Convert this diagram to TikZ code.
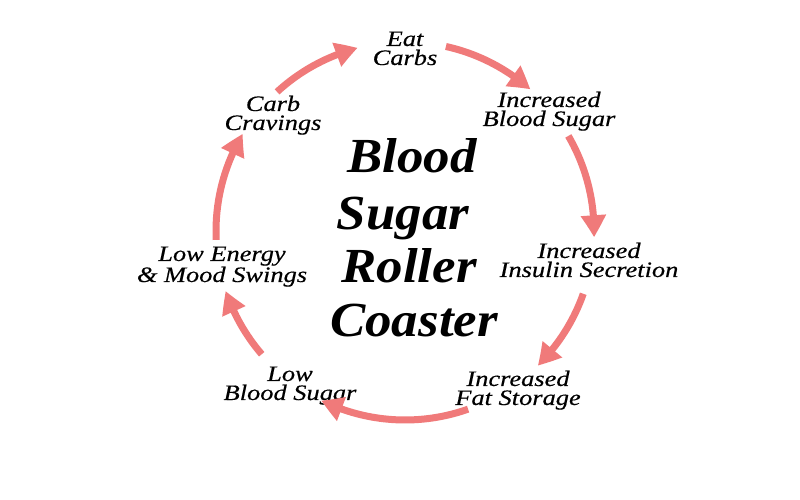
\documentclass[tikz,border=0pt]{standalone}
\usepackage{fontspec}
\newfontfamily\labfont[FakeStretch=1.2,FakeBold=0.4]{Liberation Serif}
\newfontfamily\titfont[FakeStretch=1.08]{Liberation Serif}
\usetikzlibrary{arrows.meta,bending}
\definecolor{arrowpink}{RGB}{240,122,122}
\begin{document}
\begin{tikzpicture}[x=1pt,y=1pt,
  lab/.style={font=\labfont\itshape\fontsize{22}{19}\selectfont, align=center, anchor=base, inner sep=0pt},
  tit/.style={font=\titfont\bfseries\itshape\fontsize{49}{55}\selectfont, anchor=base, inner sep=0pt},
  arr/.style={draw=arrowpink, line width=7pt, -{Triangle[width=24pt,length=22pt,bend]}}]
\useasboundingbox (0,0) rectangle (800,500);
\fill[white] (0,0) rectangle (800,500);
% centre of the cycle
\coordinate (c) at (405,269);
% labels (anchor = baseline of the last line)
\node[lab] (eat) at (405,435) {Eat\\Carbs};
\node[lab] (ibs) at (549,374) {Increased\\Blood Sugar};
\node[lab] (iis) at (589,223) {Increased\\Insulin Secretion};
\node[lab] (ifs) at (518,95) {Increased\\Fat Storage};
\node[lab] (lbs) at (290,100) {Low\\Blood Sugar};
\node[lab] (lem) at (222,218) {Low Energy\\\& Mood Swings};
\node[lab] (ccr) at (273,370) {Carb\\Cravings};
% title
\node[tit] (t1) at (412,327) {Blood};
\node[tit] (t2) at (403,270) {Sugar};
\node[tit] (t3) at (409,217) {Roller};
\node[tit] (t4) at (414,163) {Coaster};
% arrow end points
\coordinate (a1) at ([shift={(77.5:189)}]c);
\coordinate (a2) at ([shift={(30.2:189)}]c);
\coordinate (a3) at ([shift={(-19.4:189)}]c);
\coordinate (a4) at ([shift={(-70.5:189)}]c);
\coordinate (a5) at ([shift={(220.7:189)}]c);
\coordinate (a6) at ([shift={(182.7:189)}]c);
\coordinate (a7) at ([shift={(132.6:189)}]c);
\draw[arr] (a1) arc[start angle=77.5, end angle=48.5, radius=189];
\draw[arr] (a2) arc[start angle=30.2, end angle=-1.9, radius=189];
\draw[arr] (a3) arc[start angle=-19.4, end angle=-45.4, radius=189];
\draw[arr] (a4) arc[start angle=-70.5, end angle=-116.3, radius=189];
\draw[arr] (a5) arc[start angle=220.7, end angle=198.5, radius=189];
\draw[arr] (a6) arc[start angle=182.7, end angle=149.1, radius=189];
\draw[arr] (a7) arc[start angle=132.6, end angle=104.5, radius=189];
\end{tikzpicture}
\end{document}
